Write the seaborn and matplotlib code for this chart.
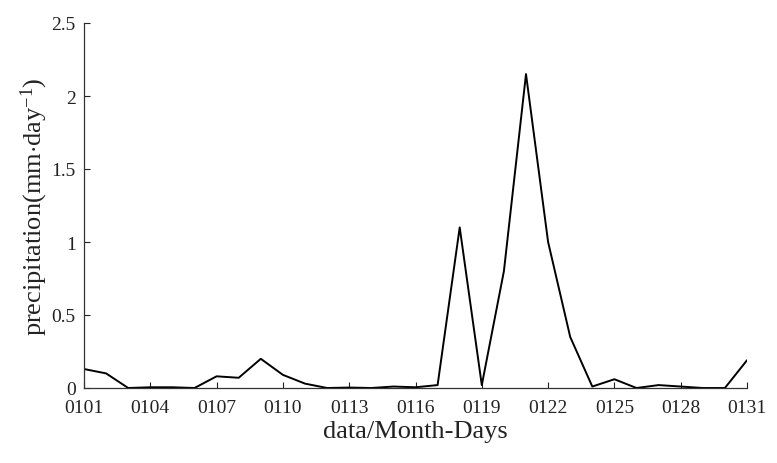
import matplotlib
matplotlib.use("Agg")
import matplotlib.pyplot as plt
import seaborn as sns
import pandas as pd

days = list(range(1, 32))
precip = [0.13, 0.10, 0.0, 0.005, 0.005, 0.0, 0.08, 0.07, 0.20, 0.09,
          0.03, 0.0, 0.003, 0.0, 0.01, 0.005, 0.02, 1.10, 0.02, 0.80,
          2.15, 1.00, 0.35, 0.01, 0.06, 0.0, 0.02, 0.01, 0.0, 0.0, 0.19]
tick_days = [1, 4, 7, 10, 13, 16, 19, 22, 25, 28, 31]
tick_labels = ["0101", "0104", "0107", "0110", "0113", "0116", "0119", "0122", "0125", "0128", "0131"]
ytick_vals = [0, 0.5, 1, 1.5, 2, 2.5]
ytick_labels = ["0", "0.5", "1", "1.5", "2", "2.5"]

sns.set_style("ticks")
plt.rcParams['font.family'] = ['Liberation Serif', 'DejaVu Serif']
plt.rcParams['mathtext.fontset'] = 'custom'
plt.rcParams['mathtext.rm'] = 'Liberation Serif'
plt.rcParams['mathtext.it'] = 'Liberation Serif:italic'

df = pd.DataFrame({"day": days, "precip": precip})

fig = plt.figure(figsize=(7.77, 4.64), dpi=100)
ax = fig.add_axes([84/777, 75/464, (747-84)/777, (389-24)/464])
sns.lineplot(data=df, x="day", y="precip", ax=ax, color="black", linewidth=1.4)

ax.set_xlim(1, 31)
ax.set_ylim(0, 2.5)
ax.set_xticks(tick_days)
ax.set_xticklabels(tick_labels)
ax.set_yticks(ytick_vals)
ax.set_yticklabels(ytick_labels)
ax.tick_params(direction="in", length=4, width=0.8, labelsize=14, colors="#222222")
ax.tick_params(axis="x", pad=8)
ax.tick_params(axis="y", pad=6)
for s in ["top", "right"]:
    ax.spines[s].set_visible(False)
for s in ["left", "bottom"]:
    ax.spines[s].set_color("#333333")
    ax.spines[s].set_linewidth(0.9)

ax.set_xlabel("data/Month-Days", fontsize=19, color="#222222", labelpad=3)
ax.set_ylabel(r"precipitation(mm$\cdot$day$^{-1}$)", fontsize=19, color="#222222", labelpad=1)

fig.savefig("out.png", dpi=100)
